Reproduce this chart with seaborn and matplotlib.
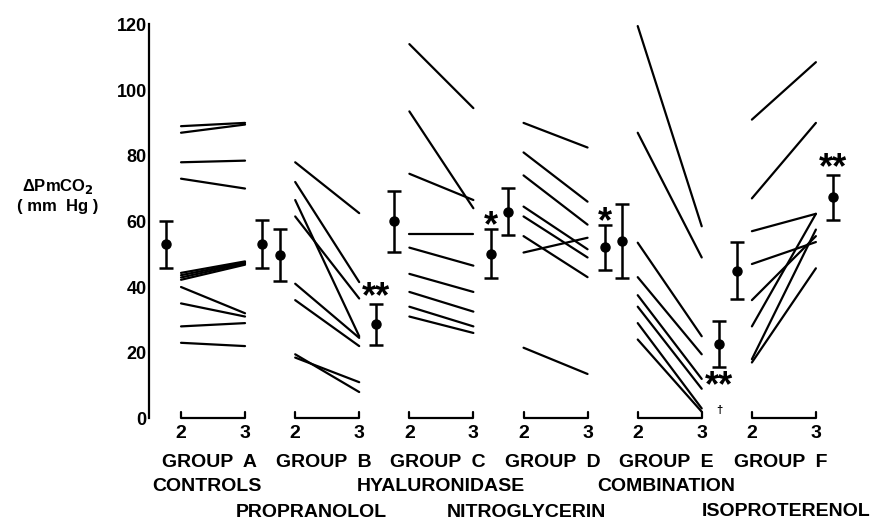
import numpy as np
import pandas as pd
import matplotlib.pyplot as plt
import seaborn as sns

# group names and treatments
groups = ["A", "B", "C", "D", "E", "F"]
treatments = ["CONTROLS", "PROPRANOLOL", "HYALURONIDASE",
              "NITROGLYCERIN", "COMBINATION", "ISOPROTERENOL"]
periods = ["2", "3"]

# individual animals: delta PmCO2 at period 2 and period 3 (mm Hg)
a_pre = [89, 87, 78, 73, 44.3, 43.6, 42.9, 42.2, 40, 35, 28, 23]
a_post = [90, 89.5, 78.5, 70, 47.8, 47.5, 47.2, 46.8, 32, 31, 29, 22]
b_pre = [78, 72, 66.5, 61.5, 41, 36, 19.5, 18.5]
b_post = [62.5, 41.5, 25, 36.5, 24.5, 22, 8, 11]
c_pre = [114, 93.5, 74.5, 56, 52, 44, 38.5, 34, 31]
c_post = [94.5, 64, 66.5, 56, 46.5, 38.5, 32.5, 28, 26]
d_pre = [90, 81, 74, 64.5, 61.5, 55.5, 50.5, 21.5]
d_post = [82.5, 66, 59, 51.5, 49, 43, 55, 13.5]
e_pre = [119.5, 87, 53.5, 43, 37.5, 34, 29, 24]
e_post = [58.5, 49, 25, 19.5, 12, 9, 3, 2]
f_pre = [91, 67, 57, 47, 36, 28, 18, 17]
f_post = [108.5, 90, 62.3, 53.7, 55.5, 62.3, 57.5, 45.7]

# group means and SD
mean_pre = [53.0, 49.7, 60.1, 63.0, 54.0, 45.0]
sd_pre = [7.2, 7.9, 9.3, 7.1, 11.3, 8.8]
mean_post = [53.2, 28.6, 50.1, 52.1, 22.5, 67.3]
sd_post = [7.3, 6.3, 7.5, 6.8, 7.0, 6.9]
sig_post = ["", "**", "*", "*", "**", "**"]

pre = [a_pre, b_pre, c_pre, d_pre, e_pre, f_pre]
post = [a_post, b_post, c_post, d_post, e_post, f_post]

GAP = 1.784  # distance between groups (period 2 -> 3 is 1)

rows = []
for g, (p0, p1) in enumerate(zip(pre, post)):
    for k, (v0, v1) in enumerate(zip(p0, p1)):
        rows.append((g, f"{g}-{k}", 0, v0))
        rows.append((g, f"{g}-{k}", 1, v1))
df = pd.DataFrame(rows, columns=["group", "animal", "period", "pmco2"])
df["x"] = df["group"] * GAP + df["period"]

sns.set_style("white")
plt.rcParams["font.family"] = ["Liberation Sans", "DejaVu Sans"]
plt.rcParams["font.weight"] = "bold"

fig = plt.figure(figsize=(8.72, 5.23), dpi=100)
ax = fig.add_axes([0.1709, 0.2002, 0.8154, 0.7531])

sns.lineplot(data=df, x="x", y="pmco2", units="animal", estimator=None,
             color="black", lw=1.6, ax=ax, legend=False)

gx = np.arange(len(groups)) * GAP
ax.errorbar(gx - 0.24, mean_pre, yerr=sd_pre, fmt="o", color="black",
            ms=6.5, capsize=4.7, elinewidth=1.8, capthick=1.8)
ax.errorbar(gx + 1.27, mean_post, yerr=sd_post, fmt="o", color="black",
            ms=6.5, capsize=4.7, elinewidth=1.8, capthick=1.8)

# significance marks
for g, s in enumerate(sig_post):
    if not s:
        continue
    if groups[g] == "E":
        ax.annotate(s, (gx[g] + 1.27, mean_post[g] - sd_post[g]),
                    xytext=(0, -21), textcoords="offset points",
                    ha="center", va="baseline", fontsize=26, color="black")
        ax.annotate("†", (gx[g] + 1.27, mean_post[g] - sd_post[g]),
                    xytext=(0, -33), textcoords="offset points",
                    ha="center", va="baseline", fontsize=8, color="black")
    else:
        off = -2.2 if len(s) == 2 else -4.9
        ax.annotate(s, (gx[g] + 1.27, mean_post[g] + sd_post[g]),
                    xytext=(0, off), textcoords="offset points",
                    ha="center", va="baseline", fontsize=26, color="black")

# brackets under each group
for x0 in gx:
    ax.plot([x0, x0, x0 + 1, x0 + 1], [2, 0, 0, 2], color="black",
            lw=1.6, clip_on=False)

ax.set_xlim(-0.5, 10.61)
ax.set_ylim(0, 120)
ax.set_yticks(range(0, 121, 20))
ax.tick_params(axis="y", direction="in", length=6, width=1.6, pad=1.7,
               labelsize=13, labelcolor="black")
ax.set_xticks(np.concatenate([gx, gx + 1]))
ax.set_xticklabels(periods[:1] * len(gx) + periods[1:] * len(gx))
ax.tick_params(axis="x", length=0, pad=5, labelsize=14, labelcolor="black")
for sp in ["top", "right", "bottom"]:
    ax.spines[sp].set_visible(False)
ax.spines["left"].set_linewidth(1.6)
ax.spines["left"].set_color("black")
ax.set_xlabel("")
ax.set_ylabel("")

# group labels below
tr = ax.get_xaxis_transform()
name_shift = [-0.1, -0.25, 0.0, -0.45, -0.05, 0.0]
for g in range(len(groups)):
    ax.text(gx[g] + 0.45, -0.111, f"GROUP  {groups[g]}", transform=tr,
            ha="center", va="center", fontsize=14, color="black")
    row = -0.174 if g % 2 == 0 else -0.238
    if g == len(groups) - 1:
        # last name sits against the right edge of the figure
        fig.text(0.998, 1 - 512 / 523, treatments[g], ha="right",
                 va="center", fontsize=14, color="black")
    else:
        ax.text(gx[g] + 0.5 + name_shift[g], row, treatments[g],
                transform=tr, ha="center", va="center", fontsize=14,
                color="black")

fig.text(58 / 872, 1 - 187 / 523, "ΔPmCO$_2$", ha="center", va="center",
         fontsize=12, color="black")
fig.text(58 / 872, 1 - 207 / 523, "( mm  Hg )", ha="center", va="center",
         fontsize=12, color="black")

fig.savefig("out.png", dpi=100)
